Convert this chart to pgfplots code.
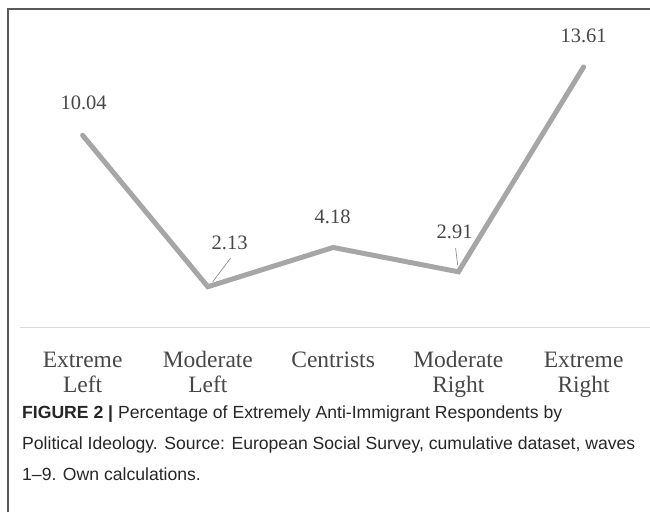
\documentclass[border=0pt]{standalone}
\usepackage{pgfplots}
\pgfplotsset{compat=1.18}
\usepackage{fontspec}
\setmainfont{Liberation Serif}
\newfontfamily\capfont{Liberation Sans}
\definecolor{linegray}{HTML}{A6A6A6}
\definecolor{txtgray}{HTML}{474747}
\definecolor{axgray}{HTML}{D9D9D9}
\definecolor{framegray}{HTML}{5A5A5A}

\begin{document}
\begin{tikzpicture}
\path[use as bounding box] (0,0) rectangle (650pt,512pt);
% figure frame (left and top edges only)
\draw[framegray, line width=1.4pt] (8pt,0) -- (8pt,503pt) -- (650pt,503pt);

\begin{axis}[
    at={(20pt,184.5pt)}, anchor=south west,
    scale only axis,
    width=630pt, height=268pt,
    xmin=-0.5, xmax=4.53,
    ymin=0, ymax=14,
    clip=false,
    axis x line=bottom,
    axis y line=none,
    x axis line style={-, draw=axgray, line width=1.3pt},
    xtick={0,1,2,3,4},
    xticklabels={Extreme\\Left, Moderate\\Left, Centrists, Moderate\\Right, Extreme\\Right},
    major tick length=0pt,
    typeset ticklabels with strut,
    xticklabel style={align=center, anchor=north, inner sep=0pt, text=txtgray,
        font=\fontsize{23.5}{25}\selectfont, yshift=-22pt},
]
\addplot[linegray, line width=5pt, line join=miter, line cap=round] coordinates {
    (0,10.04) (1,2.13) (2,4.18) (3,2.91) (4,13.61)
};
\begin{scope}[every node/.style={text=txtgray, font=\fontsize{20.5}{22}\selectfont}]
\node at (axis cs:0.008,11.72) {10.04};
\node at (axis cs:1.174,4.41) {2.13};
\node at (axis cs:1.996,5.77) {4.18};
\node at (axis cs:2.97,4.99) {2.91};
\node at (axis cs:4.0,15.22) {13.61};
\end{scope}
\draw[gray, line width=0.6pt] (axis cs:1.182,3.63) -- (axis cs:1.038,2.38);
\draw[gray, line width=0.6pt] (axis cs:2.978,4.15) -- (axis cs:2.994,3.26);
\end{axis}

\begin{scope}[every node/.style={anchor=base west, inner sep=0pt, text=black!85,
    font=\capfont\fontsize{17.6}{20}\selectfont}]
\node at (22pt,94pt) {\textbf{FIGURE 2 |} Percentage of Extremely Anti-Immigrant Respondents by};
\node at (22pt,63pt) {Political Ideology. Source: European Social Survey, cumulative dataset, waves};
\node at (22pt,32pt) {1–9. Own calculations.};
\end{scope}
\end{tikzpicture}
\end{document}
